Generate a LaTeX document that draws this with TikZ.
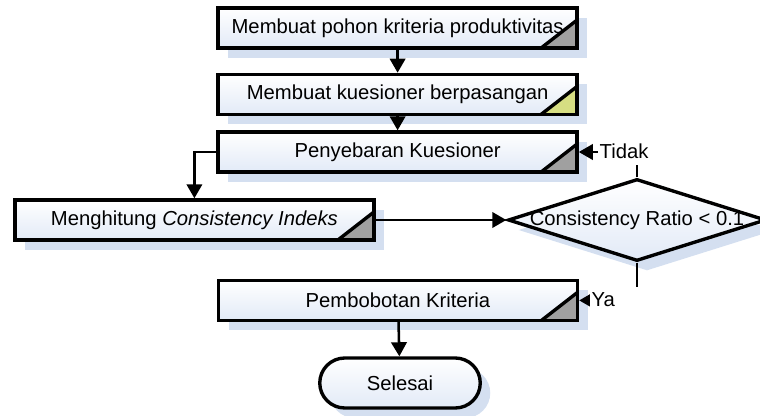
\documentclass[tikz,border=0pt]{standalone}
\usepackage{fontspec}
\setsansfont{Liberation Sans}
\usepackage{tikz}
\usetikzlibrary{positioning}
\usetikzlibrary{shapes,arrows.meta,shadows}

\definecolor{boxblue}{RGB}{226,234,247}
\definecolor{shadowblue}{RGB}{212,223,240}
\definecolor{cornergray}{RGB}{160,160,160}
\definecolor{corneryellow}{RGB}{214,222,130}

\tikzset{
  proses/.style={draw,line width=2.4pt,minimum width=8.975cm,minimum height=1cm,
    top color=white,bottom color=boxblue,
    drop shadow={shadow xshift=0.25cm,shadow yshift=-0.25cm,fill=shadowblue,opacity=1},
    path picture={
      \fill[#1] ([xshift=-0.9cm]path picture bounding box.south east)
        -- (path picture bounding box.south east)
        -- ([yshift=0.7cm]path picture bounding box.south east) -- cycle;
      \draw[line width=2.4pt] ([xshift=-0.9cm]path picture bounding box.south east)
        -- ([yshift=0.7cm]path picture bounding box.south east);
    }},
  proses/.default=cornergray,
  keputusan/.style={draw,diamond,line width=2.4pt,minimum width=6.45cm,minimum height=2.05cm,
    inner sep=0pt,top color=white,bottom color=boxblue,
    drop shadow={shadow xshift=0.25cm,shadow yshift=-0.25cm,fill=shadowblue,opacity=1}},
  terminal/.style={draw,rounded rectangle,line width=2.4pt,minimum width=4.35cm,minimum height=1.25cm,
    top color=white,bottom color=boxblue,
    drop shadow={shadow xshift=0.25cm,shadow yshift=-0.25cm,fill=shadowblue,opacity=1}},
  garis/.style={line width=1.8pt},
  ket/.style={fill=white,inner sep=1pt,text width=1.3cm,align=left,
    text height=1.7ex,text depth=0.5ex}
}

\begin{document}
\begin{tikzpicture}[>={Triangle[length=10pt,width=11pt]}] \sffamily \fontsize{14.4}{17}\selectfont

\useasboundingbox (0,0) rectangle (19,-10.4);

\node[proses] (pohon) at (9.94,-0.7) {Membuat pohon kriteria produktivitas};

\node[proses=corneryellow] (kuesioner) at (9.94,-2.36) {Membuat kuesioner berpasangan};

\node[proses] (sebar) at (9.94,-3.8) {Penyebaran Kuesioner};

\node[proses] (hitung) at (4.86,-5.5) {Menghitung \textit{Consistency Indeks}};

\node[keputusan] (rasio) at (15.925,-5.5) {\makebox[0pt]{Consistency Ratio < 0.1}};

\node[proses] (bobot) at (9.95,-7.51) {Pembobotan Kriteria};

\node[terminal] (selesai) at (10,-9.575) {Selesai};


\draw[garis,->] (pohon) to (kuesioner);
\draw[garis,->] (kuesioner) to (sebar);
\draw[garis,->] (sebar.west) -| (hitung.north);
\draw[garis,->] (hitung) to (rasio);
\draw[garis,->] (rasio.north) |- (sebar.east);
\draw[garis,->] (rasio.south) |- (bobot.east);
\draw[garis,->] (bobot) to (selesai);

\node[ket,anchor=west] (tidak) at (14.95,-3.8) {Tidak};
\node[ket,anchor=west] (ya) at (14.75,-7.51) {Ya};

\end{tikzpicture}
\end{document}
